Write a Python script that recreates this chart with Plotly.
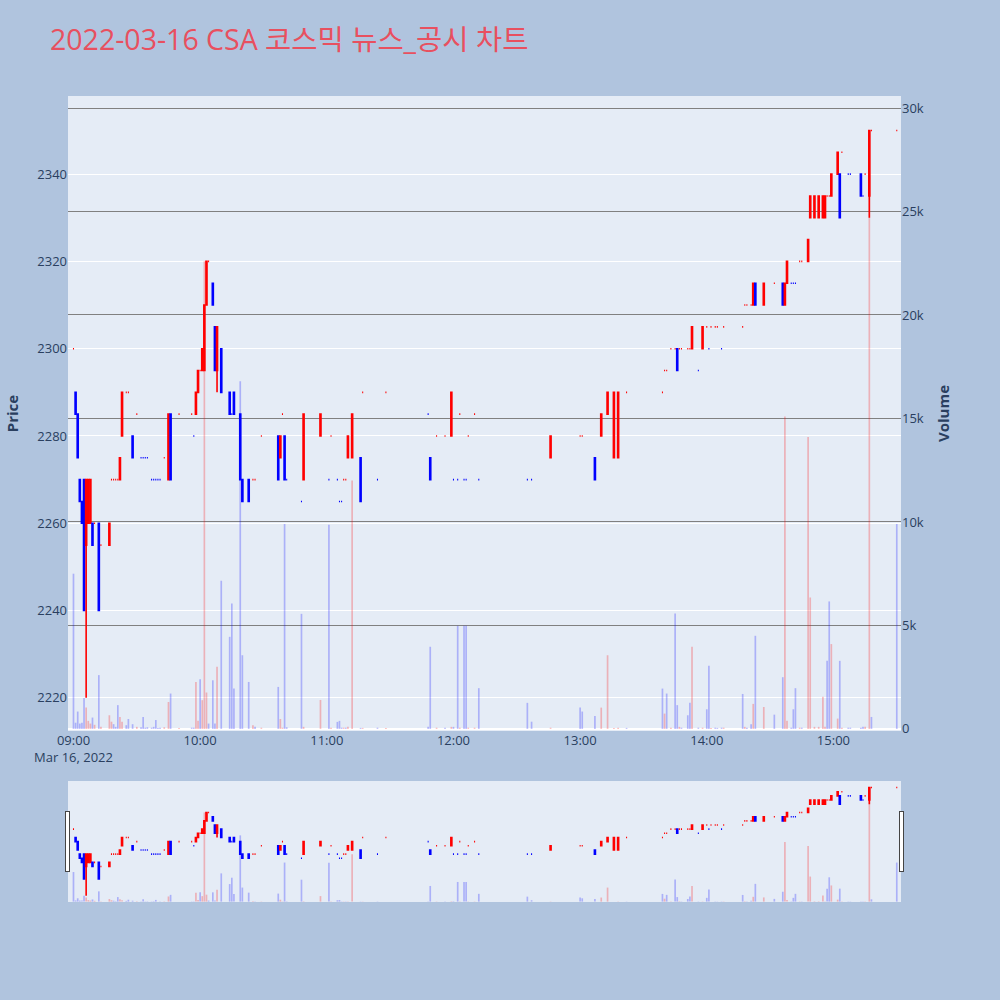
import plotly.graph_objects as go

DATE = "2022-03-16"

times = [
    "09:00", "09:01", "09:02", "09:03", "09:04", "09:05", "09:06", "09:07", "09:08", "09:09",
    "09:10", "09:12", "09:13", "09:17", "09:18", "09:19", "09:20", "09:21", "09:22", "09:23",
    "09:25", "09:26", "09:28", "09:30", "09:32", "09:33", "09:34", "09:35", "09:37", "09:38",
    "09:39", "09:40", "09:41", "09:43", "09:45", "09:46", "09:50", "09:56", "09:57", "09:58",
    "09:59", "10:00", "10:01", "10:02", "10:03", "10:04", "10:06", "10:07", "10:08", "10:10",
    "10:14", "10:15", "10:16", "10:19", "10:20", "10:23", "10:25", "10:26", "10:29", "10:37",
    "10:38", "10:39", "10:40", "10:41", "10:48", "10:49", "10:57", "11:01", "11:02", "11:05",
    "11:06", "11:07", "11:08", "11:09", "11:10", "11:12", "11:16", "11:17", "11:24", "11:28",
    "11:48", "11:49", "11:52", "11:56", "11:59", "12:00", "12:02", "12:03", "12:05", "12:06",
    "12:07", "12:10", "12:12", "12:35", "12:37", "12:46", "13:00", "13:01", "13:07", "13:10",
    "13:13", "13:16", "13:18", "13:22", "13:39", "13:40", "13:41", "13:43", "13:45", "13:46",
    "13:47", "13:48", "13:51", "13:52", "13:53", "13:56", "13:58", "14:00", "14:01", "14:02",
    "14:04", "14:05", "14:07", "14:08", "14:17", "14:18", "14:19", "14:21", "14:22", "14:23",
    "14:27", "14:32", "14:36", "14:37", "14:38", "14:40", "14:41", "14:42", "14:44", "14:45",
    "14:48", "14:49", "14:51", "14:53", "14:55", "14:56", "14:57", "14:58", "14:59", "15:02",
    "15:03", "15:04", "15:07", "15:08", "15:13", "15:14", "15:15", "15:17", "15:18", "15:30",
]

opens = [
    2300, 2290, 2285, 2270, 2265, 2270, 2255, 2260, 2260, 2260,
    2260, 2260, 2255, 2255, 2270, 2270, 2270, 2270, 2270, 2280,
    2290, 2290, 2280, 2285, 2275, 2275, 2275, 2275, 2270, 2270,
    2270, 2270, 2270, 2275, 2270, 2285, 2285, 2285, 2280, 2285,
    2290, 2295, 2295, 2295, 2310, 2320, 2315, 2305, 2295, 2300,
    2290, 2285, 2290, 2285, 2270, 2270, 2270, 2270, 2280, 2280,
    2275, 2285, 2280, 2270, 2265, 2270, 2280, 2270, 2280, 2270,
    2265, 2265, 2270, 2270, 2275, 2275, 2275, 2290, 2270, 2290,
    2285, 2275, 2280, 2280, 2280, 2270, 2270, 2285, 2270, 2270,
    2280, 2285, 2270, 2270, 2270, 2275, 2280, 2280, 2275, 2280,
    2285, 2275, 2275, 2290, 2290, 2295, 2295, 2300, 2300, 2300,
    2300, 2300, 2300, 2300, 2300, 2295, 2300, 2305, 2300, 2305,
    2305, 2305, 2300, 2305, 2305, 2310, 2310, 2310, 2310, 2315,
    2310, 2315, 2315, 2310, 2315, 2315, 2315, 2315, 2320, 2320,
    2320, 2330, 2330, 2330, 2330, 2330, 2335, 2335, 2335, 2340,
    2340, 2345, 2340, 2340, 2340, 2335, 2340, 2335, 2350, 2350,
]

highs = [
    2300, 2290, 2285, 2270, 2265, 2270, 2270, 2270, 2270, 2260,
    2260, 2260, 2255, 2260, 2270, 2270, 2270, 2270, 2275, 2290,
    2290, 2290, 2280, 2285, 2275, 2275, 2275, 2275, 2270, 2270,
    2270, 2270, 2270, 2275, 2285, 2285, 2285, 2285, 2280, 2290,
    2295, 2295, 2300, 2310, 2320, 2320, 2315, 2305, 2305, 2300,
    2290, 2285, 2290, 2285, 2270, 2270, 2270, 2270, 2280, 2280,
    2280, 2285, 2280, 2270, 2265, 2285, 2285, 2270, 2280, 2270,
    2265, 2265, 2270, 2270, 2280, 2285, 2275, 2290, 2270, 2290,
    2285, 2275, 2280, 2280, 2290, 2270, 2270, 2285, 2270, 2270,
    2280, 2285, 2270, 2270, 2270, 2280, 2280, 2280, 2275, 2285,
    2290, 2290, 2290, 2290, 2290, 2295, 2295, 2300, 2300, 2300,
    2300, 2300, 2300, 2300, 2305, 2295, 2305, 2305, 2300, 2305,
    2305, 2305, 2300, 2305, 2305, 2310, 2310, 2310, 2315, 2315,
    2315, 2315, 2315, 2315, 2320, 2315, 2315, 2315, 2320, 2320,
    2325, 2335, 2335, 2335, 2335, 2335, 2335, 2335, 2340, 2345,
    2340, 2345, 2340, 2340, 2340, 2335, 2340, 2350, 2350, 2350,
]

lows = [
    2300, 2285, 2275, 2265, 2260, 2240, 2220, 2260, 2260, 2255,
    2260, 2240, 2255, 2255, 2270, 2270, 2270, 2270, 2270, 2280,
    2290, 2290, 2275, 2285, 2275, 2275, 2275, 2275, 2270, 2270,
    2270, 2270, 2270, 2275, 2270, 2270, 2285, 2285, 2280, 2285,
    2290, 2295, 2295, 2295, 2310, 2320, 2310, 2295, 2290, 2290,
    2285, 2285, 2285, 2270, 2265, 2265, 2270, 2270, 2280, 2270,
    2275, 2285, 2270, 2270, 2265, 2270, 2280, 2270, 2280, 2270,
    2265, 2265, 2270, 2270, 2275, 2275, 2265, 2290, 2270, 2290,
    2285, 2270, 2280, 2280, 2280, 2270, 2270, 2285, 2270, 2270,
    2280, 2285, 2270, 2270, 2270, 2275, 2280, 2280, 2270, 2280,
    2285, 2275, 2275, 2290, 2290, 2295, 2295, 2300, 2300, 2295,
    2300, 2300, 2300, 2300, 2300, 2295, 2300, 2305, 2300, 2305,
    2305, 2305, 2300, 2305, 2305, 2310, 2310, 2310, 2310, 2310,
    2310, 2315, 2310, 2310, 2315, 2315, 2315, 2315, 2320, 2320,
    2320, 2330, 2330, 2330, 2330, 2330, 2335, 2335, 2335, 2340,
    2330, 2345, 2340, 2340, 2335, 2335, 2340, 2330, 2350, 2350,
]

closes = [
    2300, 2285, 2275, 2265, 2260, 2240, 2270, 2270, 2270, 2255,
    2260, 2240, 2255, 2260, 2270, 2270, 2270, 2270, 2275, 2290,
    2290, 2290, 2275, 2285, 2275, 2275, 2275, 2275, 2270, 2270,
    2270, 2270, 2270, 2275, 2285, 2270, 2285, 2285, 2280, 2290,
    2295, 2295, 2300, 2310, 2320, 2320, 2310, 2295, 2305, 2290,
    2285, 2285, 2285, 2270, 2265, 2265, 2270, 2270, 2280, 2270,
    2280, 2285, 2270, 2270, 2265, 2285, 2285, 2270, 2280, 2270,
    2265, 2265, 2270, 2270, 2280, 2285, 2265, 2290, 2270, 2290,
    2285, 2270, 2280, 2280, 2290, 2270, 2270, 2285, 2270, 2270,
    2280, 2285, 2270, 2270, 2270, 2280, 2280, 2280, 2270, 2285,
    2290, 2290, 2290, 2290, 2290, 2295, 2295, 2300, 2300, 2295,
    2300, 2300, 2300, 2300, 2305, 2295, 2305, 2305, 2300, 2305,
    2305, 2305, 2300, 2305, 2305, 2310, 2310, 2310, 2315, 2310,
    2315, 2315, 2310, 2315, 2320, 2315, 2315, 2315, 2320, 2320,
    2325, 2335, 2335, 2335, 2335, 2335, 2335, 2335, 2340, 2345,
    2330, 2345, 2340, 2340, 2335, 2335, 2340, 2350, 2350, 2350,
]

volumes = [
    7500, 300, 840, 260, 300, 1500, 1030, 390, 260, 550,
    200, 2600, 100, 660, 350, 230, 100, 1150, 580, 350,
    180, 480, 230, 100, 80, 580, 60, 80, 60, 100,
    430, 50, 60, 80, 1300, 1710, 50, 60, 60, 2270,
    390, 2400, 1390, 22600, 1760, 260, 2350, 260, 3000, 7160,
    4450, 6060, 1950, 16800, 3560, 2270, 180, 100, 60, 2030,
    480, 60, 9900, 80, 5560, 100, 1400, 9870, 60, 340,
    390, 60, 60, 60, 100, 12000, 50, 50, 60, 50,
    100, 3970, 60, 60, 100, 100, 4980, 60, 4980, 4980,
    60, 60, 1970, 1260, 350, 60, 1030, 840, 630, 1030,
    3560, 50, 60, 50, 1950, 740, 1710, 60, 5580, 1150,
    100, 60, 660, 1270, 3970, 60, 60, 950, 3050, 50,
    60, 50, 60, 60, 1690, 100, 60, 230, 1210, 4500,
    1060, 690, 2500, 15100, 400, 60, 950, 1970, 60, 60,
    14100, 6350, 100, 100, 1550, 100, 3290, 6160, 4100, 500,
    3290, 60, 60, 60, 60, 100, 100, 28900, 580, 9900,
]

x = [f"{DATE} {t}" for t in times]

# volume bar colour: red when the candle rose, blue otherwise
UP_VOL = "rgba(255,0,0,0.25)"
DOWN_VOL = "rgba(0,0,255,0.25)"
vol_colors = []
prev_close = None
for o, c in zip(opens, closes):
    if c > o:
        up = True
    elif c < o:
        up = False
    else:
        up = prev_close is not None and c > prev_close
    vol_colors.append(UP_VOL if up else DOWN_VOL)
    prev_close = c

fig = go.Figure()
fig.add_trace(go.Candlestick(
    x=x, open=opens, high=highs, low=lows, close=closes,
    increasing=dict(line=dict(color="red", width=1.6), fillcolor="red"),
    decreasing=dict(line=dict(color="blue", width=1.6), fillcolor="blue"),
    name="Price", yaxis="y",
))
fig.add_trace(go.Bar(
    x=x, y=volumes, yaxis="y2", name="Volume",
    marker=dict(color=vol_colors, line=dict(width=0)),
))

x_range = [f"{DATE} 08:57:24", f"{DATE} 15:32:00"]

fig.update_layout(
    template="plotly",
    width=1000, height=1000,
    paper_bgcolor="lightsteelblue",
    showlegend=False,
    font=dict(size=13),
    margin=dict(l=68, r=99, t=96, b=98),
    title=dict(
        text="2022-03-16 CSA 코스믹 뉴스_공시 차트",
        x=0.05, y=0.96, yanchor="middle",
        font=dict(size=28.5, color="#e8505f", family="Open Sans, Noto Sans CJK KR, sans-serif"),
    ),
    xaxis=dict(
        range=x_range,
        rangeslider=dict(visible=True, range=x_range),
    ),
    yaxis=dict(
        title=dict(text="Price", font=dict(size=15, weight="bold")),
        range=[2212.4, 2357.9],
    ),
    yaxis2=dict(
        title=dict(text="Volume", font=dict(size=15, weight="bold")),
        overlaying="y", side="right",
        range=[-100, 30580],
        gridcolor="gray",
        showgrid=True,
    ),
)

fig.write_html(
    "out.html",
    config={"displayModeBar": False},
    post_script="document.body.style.margin='0';",
)
